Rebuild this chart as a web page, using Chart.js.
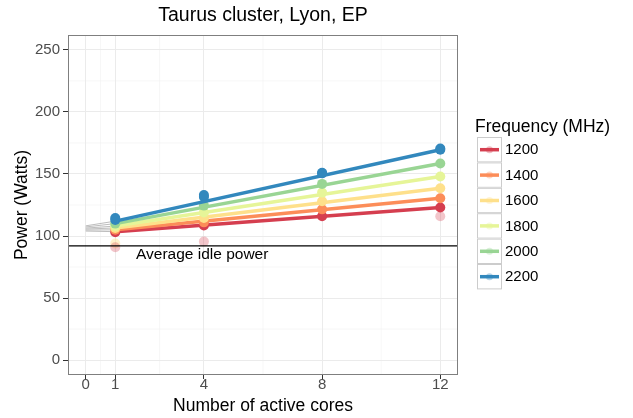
<!DOCTYPE html>
<html>
<head>
<meta charset="utf-8">
<script src="https://cdn.jsdelivr.net/npm/chart.js@4.4.0/dist/chart.umd.min.js"></script>
<style>
  html, body { margin: 0; padding: 0; background: #fff; }
  canvas { display: block; }
</style>
</head>
<body>
<canvas id="myChart" width="633" height="418"></canvas>
<script>
// data
const cores = [1, 4, 8, 12];
const freqs = ['1200', '1400', '1600', '1800', '2000', '2200'];
const colors = ['#D53E4F', '#FC8D59', '#FEE08B', '#E6F598', '#99D594', '#3288BD'];

// measured power at 1, 4, 8, 12 cores
const p1200 = [103, 108.5, 116, 123];
const p1400 = [105, 111, 121.5, 130.5];
const p1600 = [106.5, 114.5, 128, 138.5];
const p1800 = [108, 119, 135, 148];
const p2000 = [110, 124.5, 142, 158.5];
const p2200 = [113, 131.5, 150.5, 169.5];
const points = [p1200, p1400, p1600, p1800, p2000, p2200];
// a few repeated blue runs sit a little higher
const p2200Extra = [114.5, 133, 151, 170.5];

// fitted lines: value at 0 cores (grey), at 1 core and at 12 cores
const fitZero = [104, 104.8, 105.6, 106.4, 107.3, 108.2];
const fitStart = [103.5, 105, 106.5, 108, 110, 112];
const fitEnd = [123, 130.5, 138.5, 148, 158.5, 169.5];

// faint outliers
const faintX = [1, 1, 4, 12];
const faintY = [94, 91, 95.5, 116];
const faintColor = ['rgba(254,224,139,0.45)', 'rgba(213,62,79,0.3)', 'rgba(213,62,79,0.3)', 'rgba(213,62,79,0.3)'];

const idlePower = 92;
const idleLabel = 'Average idle power';
const idleLabelX = 1.7;
const idleLabelY = 85;

const xTicks = [0, 1, 4, 8, 12];
const yTicks = [0, 50, 100, 150, 200, 250];
const xMinor = [0.5, 2.5, 6, 10];
const yMinor = [25, 75, 125, 175, 225];

const FONT = '"Liberation Sans", Arial, sans-serif';

const datasets = [];
freqs.forEach((f, i) => {
  datasets.push({
    label: f + ' zero',
    data: [{x: 0, y: fitZero[i]}, {x: 1, y: fitStart[i]}],
    showLine: true, borderColor: '#BDBDBD', borderWidth: 1, pointRadius: 0, order: 50
  });
  datasets.push({
    label: f,
    data: [{x: 1, y: fitStart[i]}, {x: 12, y: fitEnd[i]}],
    showLine: true, borderColor: colors[i], borderWidth: 3.5, pointRadius: 0, order: 20 - i * 2
  });
  datasets.push({
    label: f + ' pts',
    data: cores.map((c, k) => ({x: c, y: points[i][k]})),
    pointRadius: 5, backgroundColor: colors[i], borderWidth: 0, order: 21 - i * 2
  });
});
datasets.push({
  label: '2200 extra',
  data: cores.map((c, k) => ({x: c, y: p2200Extra[k]})),
  pointRadius: 5, backgroundColor: colors[5], borderWidth: 0, order: 9
});
datasets.push({
  label: 'faint',
  data: faintX.map((x, k) => ({x: x, y: faintY[k]})),
  pointRadius: 5, backgroundColor: faintColor, borderWidth: 0, order: 40
});
datasets.push({
  label: 'idle',
  data: [{x: -0.6, y: idlePower}, {x: 12.6, y: idlePower}],
  showLine: true, borderColor: '#000', borderWidth: 1.2, pointRadius: 0, order: 0
});

const ggplotBits = {
  id: 'ggplotBits',
  beforeDraw(chart) {
    const c = chart.ctx, a = chart.chartArea;
    const sx = chart.scales.x, sy = chart.scales.y;
    c.save();
    c.fillStyle = '#fff';
    c.fillRect(0, 0, chart.width, chart.height);
    c.strokeStyle = '#F2F2F2';
    c.lineWidth = 0.6;
    xMinor.forEach(v => {
      const px = sx.getPixelForValue(v);
      c.beginPath(); c.moveTo(px, a.top); c.lineTo(px, a.bottom); c.stroke();
    });
    yMinor.forEach(v => {
      const py = sy.getPixelForValue(v);
      c.beginPath(); c.moveTo(a.left, py); c.lineTo(a.right, py); c.stroke();
    });
    c.restore();
  },
  afterDatasetsDraw(chart) {
    const c = chart.ctx, a = chart.chartArea;
    const sx = chart.scales.x, sy = chart.scales.y;
    c.save();
    // panel border
    c.strokeStyle = '#7F7F7F';
    c.lineWidth = 1;
    c.strokeRect(a.left + 0.5, a.top + 0.5, a.right - a.left - 1, a.bottom - a.top - 1);

    // idle label
    c.fillStyle = '#000';
    c.font = '15.5px ' + FONT;
    c.textAlign = 'left';
    c.textBaseline = 'middle';
    c.fillText(idleLabel, sx.getPixelForValue(idleLabelX), sy.getPixelForValue(idleLabelY));

    // titles
    c.textAlign = 'center';
    c.font = '19.5px ' + FONT;
    c.fillText('Taurus cluster, Lyon, EP', (a.left + a.right) / 2, 16);
    c.font = '17.5px ' + FONT;
    c.fillText('Number of active cores', (a.left + a.right) / 2, 406);
    c.save();
    c.translate(22, (a.top + a.bottom) / 2);
    c.rotate(-Math.PI / 2);
    c.fillText('Power (Watts)', 0, 0);
    c.restore();

    // legend
    c.textAlign = 'left';
    c.font = '17.5px ' + FONT;
    c.fillText('Frequency (MHz)', 475, 127);
    const boxX = 477, boxY = 137, boxW = 25, boxH = 25.4;
    freqs.forEach((f, i) => {
      const y = boxY + i * boxH;
      c.fillStyle = '#fff';
      c.fillRect(boxX, y, boxW, boxH);
      c.strokeStyle = '#CCCCCC';
      c.lineWidth = 1;
      c.strokeRect(boxX + 0.5, y + 0.5, boxW - 1, boxH - 1);
      c.strokeStyle = colors[i];
      c.lineWidth = 3.5;
      c.beginPath(); c.moveTo(boxX + 3, y + boxH / 2); c.lineTo(boxX + boxW - 3, y + boxH / 2); c.stroke();
      c.fillStyle = colors[i];
      c.globalAlpha = 0.35;
      c.beginPath(); c.arc(boxX + boxW / 2, y + boxH / 2, 3.5, 0, Math.PI * 2); c.fill();
      c.globalAlpha = 1;
      c.fillStyle = '#000';
      c.font = '15px ' + FONT;
      c.textBaseline = 'middle';
      c.fillText(f, 505, y + boxH / 2 + 0.5);
    });
    c.restore();
  }
};

new Chart(document.getElementById('myChart'), {
  type: 'scatter',
  data: { datasets: datasets },
  options: {
    responsive: false,
    animation: false,
    layout: { padding: { top: 35, right: 175, left: 0, bottom: 0 } },
    plugins: { legend: { display: false }, tooltip: { enabled: false }, title: { display: false } },
    scales: {
      x: {
        type: 'linear', min: -0.6, max: 12.6,
        afterBuildTicks: s => { s.ticks = xTicks.map(v => ({value: v})); },
        afterFit: s => { s.height = 43; },
        grid: { color: '#EBEBEB', lineWidth: 1, tickColor: '#333', tickLength: 4, drawTicks: true },
        border: { display: false },
        ticks: { color: '#4D4D4D', font: { family: FONT, size: 15 }, padding: -3, maxRotation: 0 }
      },
      y: {
        type: 'linear', min: -12, max: 262,
        afterBuildTicks: s => { s.ticks = yTicks.map(v => ({value: v})); },
        afterFit: s => { s.width = 68; },
        grid: { color: '#EBEBEB', lineWidth: 1, tickColor: '#333', tickLength: 5, drawTicks: true },
        border: { display: false },
        ticks: { color: '#4D4D4D', font: { family: FONT, size: 15 }, padding: 3 }
      }
    }
  },
  plugins: [ggplotBits]
});
</script>
</body>
</html>
